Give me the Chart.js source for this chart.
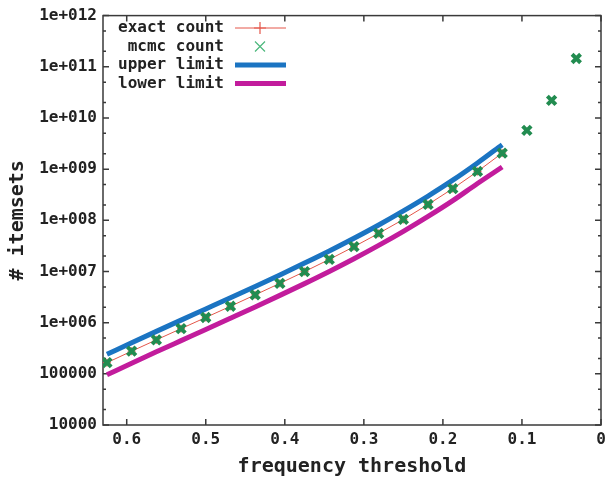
<!DOCTYPE html>
<html>
<head>
<meta charset="utf-8">
<script src="https://cdn.jsdelivr.net/npm/chart.js@4.4.0/dist/chart.umd.min.js"></script>
<style>
  html, body { margin: 0; padding: 0; background: #fff; }
</style>
</head>
<body>
<canvas id="myChart" width="611" height="482"></canvas>
<script>
// frequency thresholds (k/32)
const thresholdsExact = [0.625, 0.59375, 0.5625, 0.53125, 0.5, 0.46875, 0.4375, 0.40625, 0.375,
  0.34375, 0.3125, 0.28125, 0.25, 0.21875, 0.1875, 0.15625, 0.125];
const thresholdsMcmc = [0.625, 0.59375, 0.5625, 0.53125, 0.5, 0.46875, 0.4375, 0.40625, 0.375,
  0.34375, 0.3125, 0.28125, 0.25, 0.21875, 0.1875, 0.15625, 0.125, 0.09375, 0.0625, 0.03125];

// # itemsets
const exactCount = [1.65e5, 2.77e5, 4.61e5, 7.64e5, 1.26e6, 2.09e6, 3.49e6, 5.86e6, 9.95e6,
  1.72e7, 3.05e7, 5.55e7, 1.04e8, 2.04e8, 4.16e8, 9.0e8, 2.06e9];
const mcmcCount = [1.65e5, 2.77e5, 4.61e5, 7.64e5, 1.26e6, 2.09e6, 3.49e6, 5.86e6, 9.95e6,
  1.72e7, 3.05e7, 5.55e7, 1.04e8, 2.04e8, 4.16e8, 9.0e8, 2.06e9, 5.7e9, 2.2e10, 1.45e11];
const upperLimit = [2.41e5, 4.05e5, 6.75e5, 1.12e6, 1.85e6, 3.06e6, 5.1e6, 8.57e6, 1.46e7,
  2.52e7, 4.46e7, 8.11e7, 1.53e8, 2.98e8, 6.08e8, 1.32e9, 3.01e9];
const lowerLimit = [9.6e4, 1.61e5, 2.69e5, 4.45e5, 7.35e5, 1.22e6, 2.03e6, 3.41e6, 5.79e6,
  1.0e7, 1.77e7, 3.23e7, 6.08e7, 1.19e8, 2.42e8, 5.24e8, 1.1e9];

// axis ticks
const xTickValues = [0.6, 0.5, 0.4, 0.3, 0.2, 0.1, 0];
const xTickLabels = ["0.6", "0.5", "0.4", "0.3", "0.2", "0.1", "0"];
const yTickValues = [1e4, 1e5, 1e6, 1e7, 1e8, 1e9, 1e10, 1e11, 1e12];
const yTickLabels = ["10000", "100000", "1e+006", "1e+007", "1e+008", "1e+009", "1e+010", "1e+011", "1e+012"];

const FONT = "'DejaVu Sans Mono', 'Liberation Mono', monospace";

function toPoints(xs, ys) {
  return ys.map((y, i) => ({ x: xs[i], y: y }));
}

// frame + inward ticks, gnuplot style
const gnuplotFrame = {
  id: "gnuplotFrame",
  beforeDatasetsDraw(chart) {
    const { ctx, chartArea: a, scales } = chart;
    ctx.save();
    ctx.strokeStyle = "#3a3a3a";
    ctx.lineWidth = 1.5;
    ctx.beginPath();
    xTickValues.forEach((v) => {
      const px = scales.x.getPixelForValue(v);
      ctx.moveTo(px, a.bottom); ctx.lineTo(px, a.bottom - 6);
      ctx.moveTo(px, a.top); ctx.lineTo(px, a.top + 6);
    });
    yTickValues.forEach((v) => {
      const py = scales.y.getPixelForValue(v);
      ctx.moveTo(a.left, py); ctx.lineTo(a.left + 6, py);
      ctx.moveTo(a.right, py); ctx.lineTo(a.right - 6, py);
      // minor ticks at 2 and 5
      [2, 5].forEach((m) => {
        if (v * m < 1e12) {
          const pm = scales.y.getPixelForValue(v * m);
          ctx.moveTo(a.left, pm); ctx.lineTo(a.left + 3, pm);
          ctx.moveTo(a.right, pm); ctx.lineTo(a.right - 3, pm);
        }
      });
    });
    ctx.stroke();
    ctx.strokeRect(a.left, a.top, a.width, a.height);
    ctx.restore();
  },
};

// key in the top left, text right-justified then sample
const keyBox = {
  id: "keyBox",
  afterDraw(chart) {
    const ctx = chart.ctx;
    ctx.save();
    ctx.font = "bold 16px " + FONT;
    ctx.textAlign = "right";
    ctx.textBaseline = "middle";
    chart.data.datasets.forEach((ds, i) => {
      const y = 28 + i * 18.5;
      ctx.fillStyle = "#222";
      ctx.fillText(ds.label, 224, y);
      ctx.strokeStyle = ds.borderColor;
      if (ds.showLine) {
        ctx.lineWidth = ds.borderWidth;
        ctx.beginPath();
        ctx.moveTo(235, y); ctx.lineTo(286, y);
        ctx.stroke();
      }
      if (ds.pointRadius > 0) {
        ctx.lineWidth = 1.2;
        ctx.beginPath();
        if (ds.pointStyle === "cross") {
          ctx.moveTo(260, y - 6); ctx.lineTo(260, y + 6);
          ctx.moveTo(254, y); ctx.lineTo(266, y);
        } else {
          ctx.strokeStyle = "#4cb87c";
          ctx.moveTo(255, y - 5); ctx.lineTo(265, y + 5);
          ctx.moveTo(255, y + 5); ctx.lineTo(265, y - 5);
        }
        ctx.stroke();
      }
    });
    ctx.restore();
  },
};

const ctx = document.getElementById("myChart").getContext("2d");

const myChart = new Chart(ctx, {
  type: "scatter",
  data: {
    datasets: [
      {
        label: "exact count",
        data: toPoints(thresholdsExact, exactCount),
        showLine: true,
        borderColor: "#e4564a",
        backgroundColor: "#e4564a",
        borderWidth: 1,
        pointStyle: "cross",
        pointRadius: 4,
        pointBorderWidth: 1,
        order: 1,
      },
      {
        label: "mcmc count",
        data: toPoints(thresholdsMcmc, mcmcCount),
        showLine: false,
        borderColor: "#228c50",
        backgroundColor: "#228c50",
        pointStyle: "crossRot",
        pointRadius: 6,
        pointBorderWidth: 4,
        order: 0,
      },
      {
        label: "upper limit",
        data: toPoints(thresholdsExact, upperLimit),
        showLine: true,
        borderColor: "#1b74c2",
        borderWidth: 5,
        pointRadius: 0,
        cubicInterpolationMode: "monotone",
        order: 2,
      },
      {
        label: "lower limit",
        data: toPoints(thresholdsExact, lowerLimit),
        showLine: true,
        borderColor: "#c21c9c",
        borderWidth: 5,
        pointRadius: 0,
        cubicInterpolationMode: "monotone",
        order: 3,
      },
    ],
  },
  options: {
    responsive: false,
    animation: false,
    layout: { padding: { top: 14, right: 4, left: 0, bottom: 0 } },
    plugins: {
      legend: { display: false },
      tooltip: { enabled: false },
    },
    scales: {
      x: {
        type: "linear",
        reverse: true,
        min: 0,
        max: 0.63,
        grid: { display: false, drawTicks: false },
        border: { display: false },
        afterBuildTicks: (scale) => {
          scale.ticks = xTickValues.map((v) => ({ value: v }));
        },
        afterFit: (scale) => { scale.height = 57; },
        ticks: {
          padding: 5,
          color: "#222",
          font: { family: FONT, size: 16, weight: "bold" },
          callback: (v) => xTickLabels[xTickValues.indexOf(v)],
        },
        title: {
          display: true,
          text: "frequency threshold",
          color: "#222",
          padding: 3,
          font: { family: FONT, size: 20, weight: "bold" },
        },
      },
      y: {
        type: "logarithmic",
        min: 1e4,
        max: 1e12,
        grid: { display: false, drawTicks: false },
        border: { display: false },
        afterBuildTicks: (scale) => {
          scale.ticks = yTickValues.map((v) => ({ value: v }));
        },
        afterFit: (scale) => { scale.width = 103; },
        ticks: {
          padding: 6,
          color: "#222",
          font: { family: FONT, size: 16, weight: "bold" },
          callback: (v) => yTickLabels[yTickValues.indexOf(v)],
        },
        title: {
          display: true,
          text: "# itemsets",
          color: "#222",
          padding: 6,
          font: { family: FONT, size: 20, weight: "bold" },
        },
      },
    },
  },
  plugins: [gnuplotFrame, keyBox],
});
</script>
</body>
</html>
